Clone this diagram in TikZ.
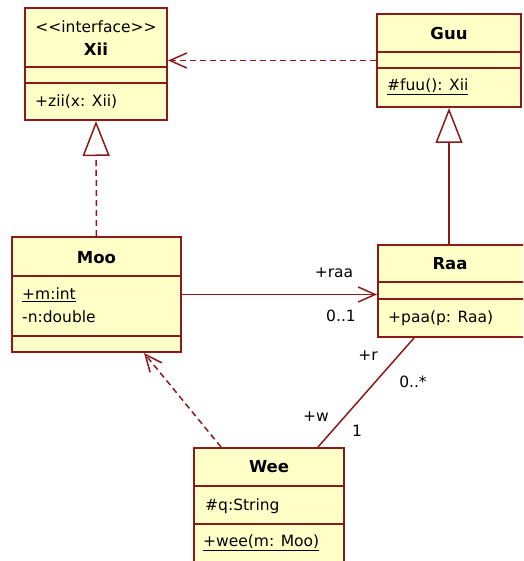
\documentclass[tikz,border=0pt]{standalone}
\usepackage{fontspec}
\setmainfont{DejaVu Sans}
\usepackage{tikz}
\usetikzlibrary{calc,arrows.meta}
\definecolor{umlred}{RGB}{139,26,26}
\definecolor{umlyellow}{RGB}{255,255,200}
\tikzset{
	classbox/.style={draw=umlred, fill=umlyellow, line width=2pt, inner sep=0pt, rectangle},
	divider/.style={draw=umlred, line width=2pt},
	txt/.style={inner sep=0pt, anchor=west},
	ttl/.style={inner sep=0pt, font=\fontsize{16.5}{19}\selectfont\bfseries},
	lbl/.style={inner sep=0pt},
	link/.style={draw=umlred, line width=1.5pt},
	dashlink/.style={link, dash pattern=on 6pt off 4pt},
	openhead/.style={-{Straight Barb[length=17pt, width=15pt, line width=1.5pt]}},
	triangle/.style={-{Triangle[open, length=35pt, width=27pt, line width=1.5pt, fill=white]}}
}

\begin{document}
\begin{tikzpicture}[x=1pt, y=-1pt, font=\fontsize{15.5}{18}\selectfont]
		%%%%% START %%%%%
		\useasboundingbox (0,0) rectangle (523,561);
		\clip (0,0) rectangle (523,561);
		
		% Xii
		\node[classbox, minimum width=142, minimum height=112] (xii) at (96,64) {};
		\draw[divider] (25,67) -- (167,67);
		\draw[divider] (25,83) -- (167,83);
		\node[lbl] (xiistereo) at (96,27) {<{}<interface>{}>};
		\node[ttl] (xiiname) at (96,49) {Xii};
		\node[txt] (xiiop) at (35,102) {+zii(x: Xii)};
		
		% Guu
		\node[classbox, minimum width=144, minimum height=93] (guu) at (449,60.5) {};
		\draw[divider] (377,52) -- (521,52);
		\draw[divider] (377,68) -- (521,68);
		\node[ttl] (guuname) at (449,33) {Guu};
		\node[txt] (guuop) at (387,87) {\underline{\#fuu(): Xii}};
		
		% Moo
		\node[classbox, minimum width=169, minimum height=115] (moo) at (96.5,294.5) {};
		\draw[divider] (12,276) -- (181,276);
		\draw[divider] (12,336) -- (181,336);
		\node[ttl] (mooname) at (96.5,258) {Moo};
		\node[txt] (mooattm) at (22,295) {\underline{+m:int}};
		\node[txt] (mooattn) at (22,317) {-n:double};
		
		% Raa
		\node[classbox, minimum width=150, minimum height=92] (raa) at (453,291) {};
		\draw[divider] (378,282) -- (528,282);
		\draw[divider] (378,299) -- (528,299);
		\node[ttl] (raaname) at (450,264) {Raa};
		\node[txt] (raaop) at (388,318) {+paa(p: Raa)};
		
		% Wee
		\node[classbox, minimum width=150, minimum height=118] (wee) at (269,507) {};
		\draw[divider] (194,486) -- (344,486);
		\draw[divider] (194,524) -- (344,524);
		\node[ttl] (weename) at (269,467) {Wee};
		\node[txt] (weeatt) at (205,506) {\#q:String};
		\node[txt] (weeop) at (203,543) {\underline{+wee(m: Moo)}};
		
		% relations
		\draw[dashlink, openhead] (guu.west) -- (guu.west -| xii.east);
		\draw[dashlink, triangle] (moo.north) -- (xii.south);
		\draw[link, triangle] (raa.north -| guu.south) -- (guu.south);
		\draw[link, openhead] (moo.east) -- (moo.east -| raa.west);
		\draw[dashlink, openhead] ($(wee.north west)+(28,0)$) -- ($(moo.south west)+(133,0)$);
		\draw[link] ($(wee.north west)+(125,0)$) -- ($(raa.south west)+(37,0)$);
		
		% role names and multiplicities
		\node[lbl] (raarole) at (334,273) {+raa};
		\node[lbl] (raamult) at (341,316) {0..1};
		\node[lbl] (rrole) at (368,356) {+r};
		\node[lbl] (rmult) at (413,382) {0..*};
		\node[lbl] (wrole) at (316,417) {+w};
		\node[lbl] (wmult) at (357,431) {1};
		%%%%% END %%%%%
\end{tikzpicture}
\end{document}
